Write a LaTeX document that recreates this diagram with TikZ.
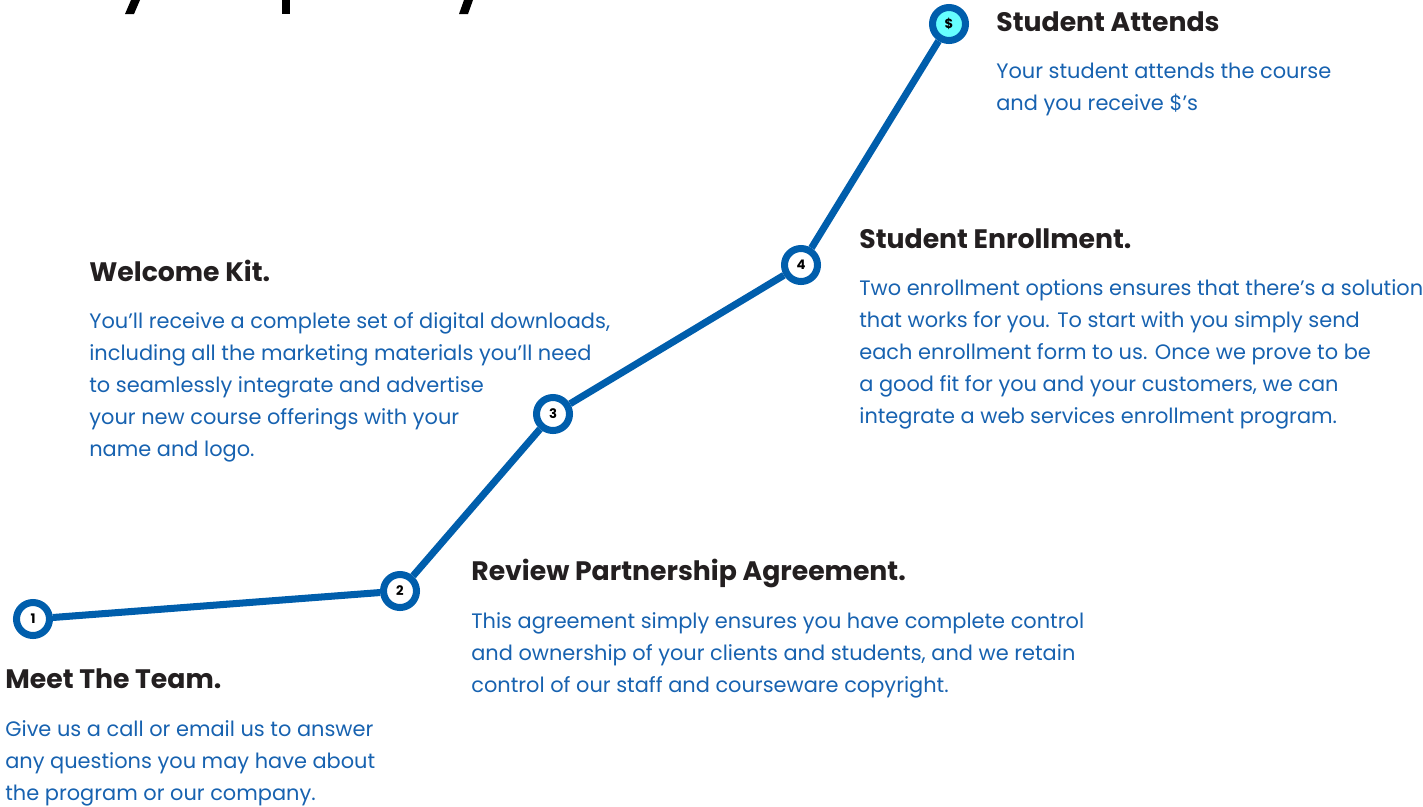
\documentclass[tikz,border=0pt]{standalone}
\usepackage{fontspec}
\setmainfont{Poppins}
\newfontfamily\headfont{Poppins}[BoldFont={* Bold}]
\definecolor{pathblue}{HTML}{005EAC}
\definecolor{copyblue}{HTML}{1762B0}
\definecolor{headblack}{HTML}{231F20}
\definecolor{coinfill}{HTML}{66FFFF}

\begin{document}
\begin{tikzpicture}[x=0.02cm, y=-0.02cm,
  stop/.style = {circle, draw=pathblue, line width=4pt, fill=white, minimum size=0.66cm, inner sep=0pt, font=\headfont\bfseries\fontsize{7.5}{8}\selectfont},
  head/.style = {anchor=base west, inner sep=0pt, text=headblack, font=\headfont\bfseries\fontsize{15.2}{18}\selectfont},
  copy/.style = {anchor=base west, inner sep=0pt, align=left, text=copyblue, font=\fontsize{11.9}{18.2}\selectfont}]
\useasboundingbox (0,0) rectangle (1423,806);

% cut-off title at the top
\fill[black] (125,14) -- (134,14) -- (140,0) -- (131,0) -- cycle;
\fill[black] (282,14) rectangle (290,0);
\fill[black] (459,14) -- (468,14) -- (473,0) -- (464,0) -- cycle;

\node[stop] (one) at (33, 619) {1};
\node[stop] (two) at (400, 591) {2};
\node[stop] (three) at (553, 414) {3};
\node[stop] (four) at (801, 265) {4};
\node[stop, fill=coinfill] (coin) at (949, 24) {\$};

\path[draw=pathblue, line width=4pt] (one) -- (two) -- (three) -- (four) -- (coin);

% text blocks (copy nodes sit on the baseline of their last line)
\node[head] (meet_h) at (5, 688) {Meet The Team.};
\node[copy] (meet_t) at (5, 800) {Give us a call or email us to answer\\any questions you may have about\\the program or our company.};

\node[head] (review_h) at (471, 580) {Review Partnership Agreement.};
\node[copy] (review_t) at (471, 692) {This agreement simply ensures you have complete control\\and ownership of your clients and students, and we retain\\control of our staff and courseware copyright.};

\node[head] (kit_h) at (89, 281) {Welcome Kit.};
\node[copy] (kit_t) at (89, 456) {You’ll receive a complete set of digital downloads,\\including all the marketing materials you’ll need\\to seamlessly integrate and advertise\\your new course offerings with your\\name and logo.};

\node[head] (enrol_h) at (859, 248) {Student Enrollment.};
\node[copy] (enrol_t) at (859, 423) {Two enrollment options ensures that there’s a solution\\that works for you. To start with you simply send\\each enrollment form to us. Once we prove to be\\a good fit for you and your customers, we can\\integrate a web services enrollment program.};

\node[head] (attend_h) at (996, 31) {Student Attends};
\node[copy] (attend_t) at (996, 110) {Your student attends the course\\and you receive \$’s};
\end{tikzpicture}
\end{document}
